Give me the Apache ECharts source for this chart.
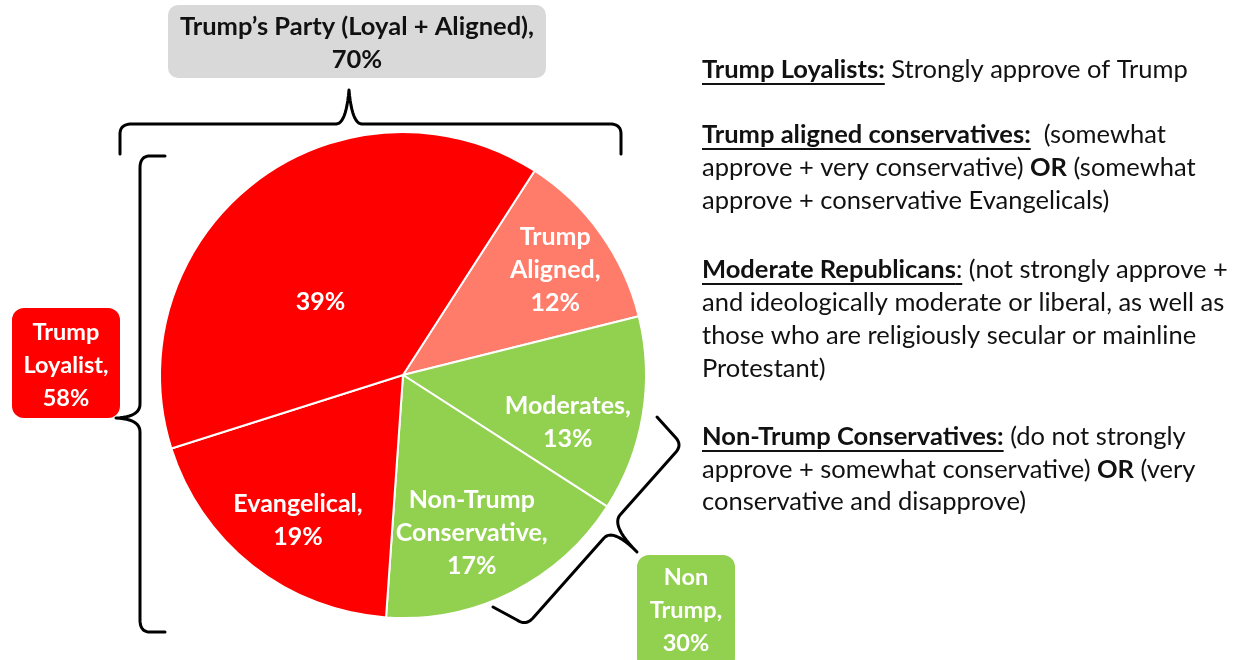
<!DOCTYPE html>
<html><head><meta charset="utf-8">
<script src="https://cdn.jsdelivr.net/npm/echarts@6/dist/echarts.min.js"></script>
<style>html,body{margin:0;padding:0;background:#fff}#c{width:1244px;height:660px}</style>
</head><body><div id="c"></div>
<script>
// ---- data ----
const categories = ['Trump Aligned', 'Moderates', 'Non-Trump Conservative', 'Evangelical', 'Trump Loyalist (other)'];
const values = [12, 13, 17, 19, 39];
const sliceNames = ['Trump\nAligned', 'Moderates', 'Non-Trump\nConservative', 'Evangelical', ''];
const groupNames = ['Trump\u2019s Party (Loyal + Aligned)', 'Trump\nLoyalist', 'Non\nTrump'];
const groupValues = [70, 58, 30];
const definitions = [
  [['bu', 'Trump Loyalists:'], ['n', ' Strongly approve of Trump']],
  [['bu', 'Trump aligned conservatives:'], ['n', '  (somewhat']],
  [['n', 'approve + very conservative) '], ['b', 'OR'], ['n', ' (somewhat']],
  [['n', 'approve + conservative Evangelicals)']],
  [['bu', 'Moderate Republicans'], ['u', ':'], ['n', ' (not strongly approve +']],
  [['n', 'and ideologically moderate or liberal, as well as']],
  [['n', 'those who are religiously secular or mainline']],
  [['n', 'Protestant)']],
  [['bu', 'Non-Trump Conservatives:'], ['n', ' (do not strongly']],
  [['n', 'approve + somewhat conservative) '], ['b', 'OR'], ['n', ' (very']],
  [['n', 'conservative and disapprove)']]
];

// ---- styles / layout ----
const colors = ['#FF7C6B', '#92D050', '#92D050', '#FF0000', '#FF0000'];
const labelShift = [[51, -33], [42, 27], [13, 47], [-28, 48], [-7, 26]];
const defLineY = [70, 135, 168, 201, 270, 303, 336, 369, 437, 470, 502];
const FONT = 'Lato, "Open Sans", sans-serif';
const FS = 25.5;

const chart = echarts.init(document.getElementById('c'));

const cv = document.createElement('canvas').getContext('2d');
function tw(txt, bold) { cv.font = (bold ? 'bold ' : '') + FS + 'px ' + FONT; return cv.measureText(txt).width; }

// turn simple M/L/Q command lists into polyline points
function pathPoints(cmds) {
  const pts = []; let cur = null;
  cmds.forEach(c => {
    if (c[0] === 'M' || c[0] === 'L') { cur = [c[1], c[2]]; pts.push(cur); }
    else if (c[0] === 'Q') {
      const [x0, y0] = cur, cx = c[1], cy = c[2], x1 = c[3], y1 = c[4];
      for (let t = 1; t <= 12; t++) {
        const s = t / 12, a = (1 - s) * (1 - s), b = 2 * s * (1 - s), d = s * s;
        pts.push([a * x0 + b * cx + d * x1, a * y0 + b * cy + d * y1]);
      }
      cur = [x1, y1];
    }
  });
  return pts;
}

const graphics = [];
// right column text
definitions.forEach((line, i) => {
  let x = 702; const y = defLineY[i];
  line.forEach(([kind, txt]) => {
    const bold = kind.indexOf('b') >= 0;
    const w = tw(txt, bold);
    graphics.push({ type: 'text', x: x, y: y, style: { text: txt, font: (bold ? 'bold ' : '') + FS + 'px ' + FONT, fill: '#111', textVerticalAlign: 'middle' } });
    if (kind.indexOf('u') >= 0) {
      graphics.push({ type: 'line', shape: { x1: x, y1: y + 14, x2: x + w, y2: y + 14 }, style: { stroke: '#111', lineWidth: 2 } });
    }
    x += w;
  });
});

// group boxes
graphics.push({ type: 'rect', shape: { x: 168, y: 5, width: 378, height: 73, r: 10 }, style: { fill: '#D9D9D9' } });
graphics.push({ type: 'text', x: 357, y: 43, style: { text: groupNames[0] + ',\n' + groupValues[0] + '%', font: 'bold 25.5px ' + FONT, fill: '#111', textAlign: 'center', textVerticalAlign: 'middle', lineHeight: 33 } });
graphics.push({ type: 'rect', shape: { x: 12, y: 308, width: 108, height: 110, r: 12 }, style: { fill: '#FF0000' } });
graphics.push({ type: 'text', x: 66, y: 365, style: { text: groupNames[1] + ',\n' + groupValues[1] + '%', font: 'bold 23.5px ' + FONT, fill: '#fff', textAlign: 'center', textVerticalAlign: 'middle', lineHeight: 33 } });
graphics.push({ type: 'rect', shape: { x: 637, y: 555, width: 98, height: 115, r: 12 }, style: { fill: '#92D050' } });
graphics.push({ type: 'text', x: 686, y: 610, style: { text: groupNames[2] + ',\n' + groupValues[2] + '%', font: 'bold 23.5px ' + FONT, fill: '#fff', textAlign: 'center', textVerticalAlign: 'middle', lineHeight: 33 } });

// braces
const braceStyle = { stroke: '#000', lineWidth: 3, fill: null, lineJoin: 'round', lineCap: 'round' };
const braces = [
  [['M',120,154],['L',120,134],['Q',120,124,132,124],['L',336,124],['Q',346,124,349,90],['Q',352,124,362,124],['L',610,124],['Q',621,124,621,134],['L',621,154]],
  [['M',165,156],['L',150,156],['Q',140,156,140,168],['L',140,404],['Q',140,417,116,418],['Q',140,419,140,432],['L',140,620],['Q',140,632,150,632],['L',165,632]],
  [['M',657,417],['L',676,438],['Q',682,445,676,452],['L',620,515],['Q',611,526,637,552],['Q',613,528,604,538],['L',533,618],['Q',526,626,517,620],['L',493,607]]
];
braces.forEach(b => graphics.push({ type: 'polyline', shape: { points: pathPoints(b) }, style: braceStyle, z: 10 }));

chart.setOption({
  animation: false,
  graphic: graphics,
  series: [{
    type: 'pie',
    center: [403, 375],
    radius: 243,
    startAngle: 57.2,
    clockwise: true,
    avoidLabelOverlap: false,
    itemStyle: { borderColor: '#fff', borderWidth: 2 },
    label: {
      show: true,
      position: 'inside',
      color: '#fff',
      fontFamily: FONT,
      fontWeight: 'bold',
      fontSize: 25,
      lineHeight: 33,
      formatter: p => (sliceNames[p.dataIndex] ? sliceNames[p.dataIndex] + ',\n' : '') + p.value + '%'
    },
    labelLayout: p => ({ dx: labelShift[p.dataIndex][0], dy: labelShift[p.dataIndex][1] }),
    labelLine: { show: false },
    emphasis: { disabled: true },
    data: categories.map((c, i) => ({ name: c, value: values[i], itemStyle: { color: colors[i] } }))
  }]
});
</script></body></html>
